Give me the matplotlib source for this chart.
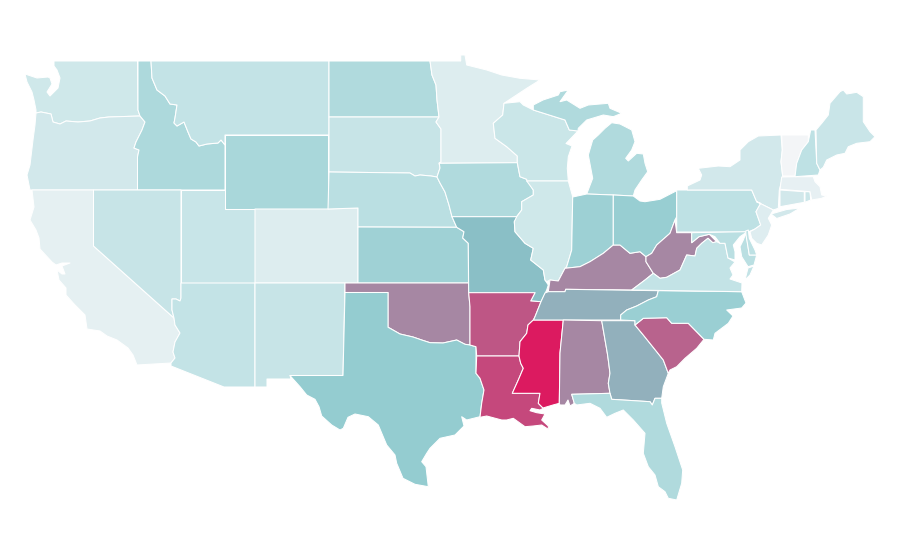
import matplotlib
matplotlib.use('Agg')
import matplotlib.pyplot as plt
from matplotlib.colors import LinearSegmentedColormap

# state values, estimated from the shading of the map
states = ['WA', 'OR', 'CA', 'ID', 'NV', 'MT', 'WY', 'UT', 'AZ', 'CO', 'NM', 'ND', 'SD', 'NE', 'KS',
          'OK', 'TX', 'MN', 'IA', 'MO', 'AR', 'LA', 'WI', 'IL', 'MS', 'MI', 'IN', 'KY', 'TN', 'AL',
          'OH', 'WV', 'GA', 'FL', 'SC', 'NC', 'VA', 'PA', 'NY', 'MD', 'DE', 'NJ', 'CT', 'RI', 'MA',
          'VT', 'NH', 'ME']
values = [17, 16, 7, 33, 21, 23, 35, 20.5, 23, 10.5, 21, 32, 21, 27, 40,
          67, 45, 10.5, 32, 50, 82, 86, 19.5, 17, 100, 32, 41, 67, 55, 67,
          43, 67, 55, 32, 78, 42, 23, 25, 16, 27, 25, 10, 16, 19, 6,
          0, 25, 20]

# state outlines traced in image pixels (x right, y down)
shapes = {
    'WA': [[(54, 61), (54, 66), (57, 70), (60, 78), (58, 88), (50, 96), (47, 92), (52, 84), (50, 78), (48, 77),
            (37, 78), (25, 74), (27, 82), (32, 92), (34, 100), (36, 110), (36, 113), (41, 112), (51, 114),
            (53, 122), (60, 124), (66, 121), (78, 122), (90, 121), (100, 118), (109, 117), (140, 116),
            (138, 110), (137.5, 61)]],
    'OR': [[(36, 113), (35, 125), (33, 140), (30, 165), (27, 175), (30, 190), (137.5, 190), (137.5, 157),
            (139, 150), (134, 148), (136, 142), (142, 130), (145, 122), (140, 116), (109, 117), (100, 118),
            (90, 121), (78, 122), (66, 121), (60, 124), (53, 122), (51, 114), (41, 112)]],
    'CA': [[(32, 190), (93.5, 190), (93.5, 246), (174, 318), (175, 325), (180, 333), (175, 342), (173, 352),
            (175, 358), (171, 363), (137, 365), (133, 355), (128, 348), (117, 340), (107, 336), (100, 331),
            (87, 329), (85, 315), (75, 305), (66, 295), (66, 288), (59, 280), (57, 270), (62, 274), (65, 274),
            (62, 266), (70, 263), (62, 263), (56, 265), (52, 262), (40, 249), (39, 238), (36, 230), (30, 220),
            (34, 207)]],
    'ID': [[(138, 61), (151, 61), (152, 78), (157, 90), (165, 96), (170, 104), (177, 105), (175, 118), (174, 123),
            (177, 126), (184, 122), (188, 132), (191, 139), (196, 142), (199, 146), (207, 144), (218, 143),
            (221, 140), (225, 145), (225, 190), (137.5, 190), (137.5, 157), (139, 150), (134, 148), (136, 142),
            (142, 130), (145, 122), (140, 116), (138, 110)]],
    'NV': [[(93.5, 190), (181, 190), (181, 298), (180, 301), (176, 299), (172, 299), (172, 310), (174, 318),
            (93.5, 246)]],
    'MT': [[(151, 61), (329, 61), (329, 135), (225, 135), (225, 145), (221, 140), (218, 143), (207, 144), (199, 146),
            (196, 142), (191, 139), (188, 132), (184, 122), (177, 126), (174, 123), (175, 118), (177, 105),
            (170, 104), (165, 96), (157, 90), (152, 78)]],
    'WY': [[(225, 135), (328, 135), (328, 209), (225, 209)]],
    'UT': [[(181, 190), (225, 190), (225, 209), (255, 209), (255, 283), (181, 283)]],
    'AZ': [[(181, 283), (255, 283), (255, 387), (224, 387), (171, 366), (171, 363), (175, 358), (173, 352), (175, 342),
            (180, 333), (175, 325), (174, 318), (172, 310), (172, 299), (176, 299), (180, 301), (181, 298)]],
    'CO': [[(255, 209), (328, 209), (358, 208), (358, 283), (255, 283)]],
    'NM': [[(255, 283), (345, 283), (343, 375.5), (290, 375.5), (291, 379), (267, 379), (267, 387), (255, 387)]],
    'ND': [[(329, 61), (430, 61), (432, 75), (436, 85), (437, 100), (439, 117), (329, 117)]],
    'SD': [[(329, 117), (439, 117), (436, 122), (441, 129), (441, 162), (439, 163), (440, 168), (437, 177), (431, 176),
            (420, 175), (415, 176), (410, 173), (329, 172)]],
    'NE': [[(329, 172), (410, 173), (415, 176), (420, 175), (431, 176), (437, 177), (440, 183), (445, 192), (449, 205),
            (452, 216.7), (456.7, 227.3), (358, 227), (358, 208), (328, 209)]],
    'KS': [[(358, 227), (456.7, 227.3), (464, 231.7), (462.7, 238), (468.3, 243.3), (468.5, 283), (358, 283)]],
    'OK': [[(345, 283), (468.5, 283), (468.7, 292.5), (470, 306.7), (470, 345), (465, 344.3), (456.7, 340), (443, 343),
            (430, 342.7), (421.7, 340), (413, 337), (400, 334), (390, 328.3), (388, 327.3), (388, 292.5), (345, 292.5)]],
    'TX': [[(345, 292.5), (388, 292.5), (388, 327.3), (390, 328.3), (400, 334), (413, 337), (421.7, 340), (430, 342.7),
            (443, 343), (456.7, 340), (465, 344.3), (470, 345), (476, 346.7), (476, 373.3), (480, 378.3), (484, 390),
            (481.7, 403.3), (480, 416.7), (466.7, 420), (461.7, 416.7), (464, 426), (455, 435), (440, 438.3),
            (430, 448.3), (426.7, 453.3), (421.7, 461.7), (426, 466.7), (428.3, 486.7), (415, 484.3), (403, 478.3),
            (396.7, 463.3), (395, 455), (386.7, 445), (378.3, 425), (368.3, 416.7), (355, 414), (348, 417.3),
            (343.3, 428.3), (340, 430), (331.7, 425), (321.7, 416), (319, 406.7), (315, 399.3), (306.7, 395),
            (300, 386.7), (291, 376.7), (290, 375.5), (343, 375.5)]],
    'MN': [[(430, 61), (460.7, 61), (460.7, 55), (465, 55), (466.7, 65), (486.7, 70), (501.7, 75), (520, 78.3),
            (540, 80), (526.7, 88.3), (504, 103.3), (502.7, 115), (493.3, 123.3), (495, 138.3), (506.7, 146.7),
            (517.3, 156), (517.3, 162.7), (439.3, 163.3), (441, 162), (441, 129), (436, 122), (439, 117), (437, 100),
            (436, 85), (432, 75)]],
    'IA': [[(439.3, 163.3), (517.3, 162.7), (520, 176.7), (526.7, 179.3), (533.3, 190), (533.3, 195), (521.7, 201.7),
            (521.7, 210), (516.7, 216.7), (452, 216.7), (449, 205), (445, 192), (440, 183), (437, 177), (440, 168)]],
    'MO': [[(452, 216.7), (516.7, 216.7), (520, 213), (514.3, 221.7), (515, 231.7), (525, 243.3), (533.3, 248.3),
            (530.7, 260), (543.3, 270), (545, 280), (548.3, 285), (546.7, 290), (541, 301.7), (530.7, 301),
            (535, 292.7), (468.7, 292.7), (468.3, 243.3), (462.7, 238), (464, 231.7), (456.7, 227.3)]],
    'AR': [[(468.7, 292.7), (535, 292.7), (530.7, 301), (541, 301.7), (535, 316.7), (533.3, 320), (528, 325),
            (526.7, 333.3), (520, 341.7), (519, 356), (476.7, 356), (476, 346.7), (470, 345), (470, 306.7)]],
    'LA': [[(476.7, 356), (519, 356), (520.7, 363.3), (523.3, 368.3), (518.3, 380), (512.3, 393.3), (540, 393.3),
            (538.3, 403.3), (543.3, 408.3), (540, 410), (531.7, 408.3), (530, 410.7), (536.7, 412.7), (545, 414),
            (541.7, 420), (548.3, 426), (548.3, 429.3), (541.7, 425), (533.3, 426), (525, 426.7), (513.3, 418.3),
            (506.7, 420), (501.7, 420), (486.7, 416), (480, 417.3), (481.7, 403.3), (484, 390), (480, 378.3),
            (476, 373.3)]],
    'WI': [[(504, 103.3), (520, 101.7), (523.3, 105), (533.3, 110), (565, 120), (569.3, 130), (578, 131), (566, 143.5),
            (572, 146), (568.3, 156.7), (567.3, 168.3), (568.3, 181), (526.7, 181), (526.7, 179.3), (520, 176.7),
            (517.3, 162.7), (517.3, 156), (506.7, 146.7), (495, 138.3), (493.3, 123.3), (502.7, 115)]],
    'IL': [[(526.7, 181), (568.3, 181), (572.7, 196.7), (571.7, 250), (566.7, 266.7), (565, 268.3), (558.3, 281),
            (550, 280), (546.7, 281.7), (545, 280), (543.3, 270), (530.7, 260), (533.3, 248.3), (525, 243.3),
            (515, 231.7), (514.3, 221.7), (516.7, 216.7), (521.7, 210), (521.7, 201.7), (533.3, 195), (533.3, 190)]],
    'MS': [[(533.3, 320), (563.3, 320), (560, 353), (559.3, 403.3), (553, 405), (543, 408), (538.3, 403.3), (540, 393.3),
            (512.3, 393.3), (518.3, 380), (523.3, 368.3), (520.7, 363.3), (519, 356), (520, 341.7), (526.7, 333.3),
            (528, 325)]],
    'MI': [[(533.3, 110), (533.3, 105), (543, 100), (558.3, 95), (560, 91.7), (568.3, 90), (560, 101.7), (566.7, 100),
            (580, 108.3), (588.3, 105), (608.3, 103.3), (610, 108.3), (621.7, 113.3), (613.3, 116.7), (603.3, 115),
            (586.7, 120), (578.3, 128.3), (578, 131), (569.3, 130), (565, 120)],
           [(611.7, 122.7), (620, 124), (631.7, 130), (635, 141.7), (631.7, 150), (625.7, 158.3), (628.3, 161),
            (636.7, 153.3), (643.3, 154), (645, 163.3), (647.7, 171.7), (641.7, 180), (635, 190), (633.3, 196),
            (613.3, 195), (586.7, 194), (592.7, 178.3), (588.3, 155), (592.7, 140), (598.3, 135), (605, 128.3)]],
    'IN': [[(572.7, 197), (586.7, 194), (613.3, 195), (613.3, 245), (603.3, 253.3), (590, 261.7), (580, 266.7),
            (565, 268.3), (566.7, 266.7), (571.7, 250)]],
    'KY': [[(548.3, 291.7), (550, 280), (558.3, 281), (565, 268.3), (580, 266.7), (590, 261.7), (603.3, 253.3),
            (613.3, 245), (620, 245), (630, 253.3), (640, 251.7), (646, 256.7), (646, 261.7), (653.3, 273.3), (645, 280),
            (631.7, 290), (565.7, 289.3), (565, 291.7)]],
    'TN': [[(545, 293), (548.3, 291.7), (565, 291.7), (565.7, 289.3), (658.3, 290.7), (656.7, 296.7), (648.3, 300),
            (636.7, 306), (626.7, 310), (620.7, 315), (620.7, 320), (533.5, 320), (535, 316.7), (541, 301.7)]],
    'AL': [[(563.3, 320), (601.7, 320.7), (607.3, 353), (608.3, 360), (610, 373.3), (608.3, 383.3), (610, 393.3),
            (571.7, 394.3), (574.3, 403.3), (570, 406), (568, 400), (565, 405), (560, 405), (559.3, 403.3), (560, 353)]],
    'OH': [[(613.3, 195), (633.3, 196), (640, 201), (645, 201.7), (660, 199.3), (676.7, 190.7), (676.7, 216.7), (675, 220),
            (670, 233.3), (656.7, 245), (651.7, 253.3), (646, 256.7), (640, 251.7), (630, 253.3), (620, 245),
            (613.3, 245)]],
    'WV': [[(675, 220), (676.7, 232.7), (691.7, 232.7), (691.7, 242.7), (699, 236.7), (709.3, 234.3), (716.7, 241.7),
            (712.7, 242.7), (708, 238.3), (701.7, 243.3), (696.7, 248.3), (695, 256), (686.7, 255), (680, 270),
            (666.7, 277.3), (660, 278.3), (653.3, 273.3), (646, 261.7), (646, 256.7), (651.7, 253.3), (656.7, 245),
            (670, 233.3)]],
    'GA': [[(601.7, 320.7), (635, 320.7), (635, 325), (643.3, 335), (656.7, 351.7), (663.3, 360), (668.3, 373.3),
            (663.3, 386.7), (661.7, 398.3), (655, 398.3), (652.3, 405), (650, 401.7), (611.7, 399.3), (610, 393.3),
            (608.3, 383.3), (610, 373.3), (608.3, 360), (607.3, 353)]],
    'FL': [[(571.7, 394.3), (610, 393.3), (611.7, 399.3), (650, 401.7), (652.3, 405), (655, 398.3), (661.7, 398.3),
            (661.7, 403), (666.7, 423.3), (675, 446.7), (682.7, 470), (681.7, 483.3), (676.7, 500), (668.3, 498.3),
            (665, 491.7), (658.3, 486.7), (655, 475), (648.3, 466.7), (643.3, 453.3), (645, 433.3), (633.3, 420),
            (623.3, 410), (615, 413.3), (606.7, 417.3), (600, 408.3), (590, 403.3), (576.7, 405), (574.3, 403.3)]],
    'SC': [[(635, 325), (643.3, 318.3), (666.7, 317.7), (671.7, 323.3), (688.3, 323.3), (704, 339.3), (696.7, 348.3),
            (685, 358.3), (676.7, 366.7), (670, 370), (668.3, 373.3), (663.3, 360), (656.7, 351.7), (643.3, 335)]],
    'NC': [[(658.3, 290.7), (741.7, 291.7), (746, 303), (741.7, 308), (726.7, 310), (733, 316), (728.3, 323.3),
            (715, 333.3), (713.3, 340), (704, 339.3), (688.3, 323.3), (671.7, 323.3), (666.7, 317.7), (643.3, 318.3),
            (635, 325), (635, 320.7), (620.7, 320), (620.7, 315), (626.7, 310), (636.7, 306), (648.3, 300),
            (656.7, 296.7)]],
    'VA': [[(631.7, 290), (645, 280), (653.3, 273.3), (660, 278.3), (666.7, 277.3), (680, 270), (686.7, 255), (695, 256),
            (696.7, 248.3), (701.7, 243.3), (708, 238.3), (712.7, 242.7), (716.7, 241.7), (720, 243.3), (725, 243.3),
            (726.7, 251.7), (728, 258), (735, 262), (730, 268), (733, 275), (730, 279), (742, 283), (741.7, 291.7)],
           [(754, 266), (748, 268), (745, 280), (750, 275)]],
    'PA': [[(676.7, 190), (751.7, 190), (756.7, 201.7), (760.7, 203.3), (756, 211.7), (760.7, 225), (755, 229), (748, 232),
            (676.7, 232)]],
    'NY': [[(687.3, 190), (687.3, 186), (700, 180), (701.7, 175), (698.3, 168.3), (718.3, 166), (730, 166.7), (740, 160),
            (740, 150), (748.3, 141.7), (758.3, 136), (781, 135), (782.3, 150), (781, 161.7), (782.7, 176.7), (779.3, 190),
            (778.3, 208.3), (773.3, 210), (756.7, 201.7), (751.7, 190)],
           [(771, 214), (786.7, 209.5), (800, 208), (790, 214), (776.7, 218.5)]],
    'MD': [[(691.7, 232.7), (746, 231.7), (745, 233.3), (740, 236.7), (733.3, 245), (735, 251.7), (735, 260), (728, 258),
            (726.7, 251.7), (725, 243.3), (720, 243.3), (715, 236.7), (709.3, 234.3), (699, 236.7), (691.7, 242.7)],
           [(746, 233), (749.3, 255), (756.7, 255), (754, 265), (748, 266.7), (741.7, 256.7), (740, 246.7), (743.3, 240)]],
    'DE': [[(745.7, 231), (748.3, 230), (749.3, 238.3), (755, 250), (756.7, 255), (749.3, 255), (746, 235)]],
    'NJ': [[(756.7, 201.7), (773.3, 210), (771.7, 212.7), (768.3, 218.3), (771.7, 225), (768.3, 235), (761.7, 245),
            (756.7, 243.3), (751.7, 238.3), (750, 231.7), (755, 229), (760.7, 225), (756, 211.7), (760.7, 203.3)]],
    'CT': [[(780, 190), (804.3, 191.7), (804.3, 202.3), (780, 206.7)]],
    'RI': [[(805, 191.7), (810, 191.7), (810.7, 200), (805, 202.3)]],
    'MA': [[(781.7, 177), (795, 176.7), (813.3, 176.7), (815, 181.7), (820, 186.7), (821.7, 195), (826.7, 196), (821.7, 198.3),
            (811.7, 200), (810, 191.7), (780, 189.3)]],
    'VT': [[(781.7, 135), (808.3, 135), (808.3, 141.7), (801.7, 150), (796.7, 163.3), (795, 176), (782.7, 176), (781, 161.7),
            (782.3, 150)]],
    'NH': [[(810.7, 130), (815, 130), (816.7, 163.3), (820, 170), (818.3, 175), (795, 176.7), (796.7, 163.3), (801.7, 150),
            (808.3, 141.7)]],
    'ME': [[(816, 130), (821.7, 123.3), (828.3, 115), (830, 103.3), (840, 91.7), (843.3, 90), (846.7, 94), (856.7, 92.3),
            (863.3, 96.7), (863.3, 121.7), (870, 131.7), (875, 136.7), (870, 141.7), (856.7, 143.3), (848.3, 146.7),
            (845, 153.3), (836.7, 155), (826.7, 160), (823.3, 167.3), (820, 170), (816.7, 163.3)]],
}

# light grey -> teal -> crimson, value 0 to 100
cmap = LinearSegmentedColormap.from_list('burden', [(0.0, '#f3f5f7'), (0.25, '#bee1e4'), (0.45, '#94ccd0'),
                                                    (0.5, '#8ac0c6'), (1.0, '#dc1a60')])

fig = plt.figure(figsize=(9, 5.6), dpi=100)
ax = fig.add_axes([0, 0, 1, 1])

for state, value in zip(states, values):
    for ring in shapes[state]:
        xs = [p[0] for p in ring]
        ys = [p[1] for p in ring]
        ax.fill(xs, ys, facecolor=cmap(value / 100), edgecolor='white', linewidth=0.75, joinstyle='round')

ax.set_xlim(0, 900)
ax.set_ylim(560, 0)
ax.axis('off')

fig.savefig('out.png', dpi=100, facecolor='white')
